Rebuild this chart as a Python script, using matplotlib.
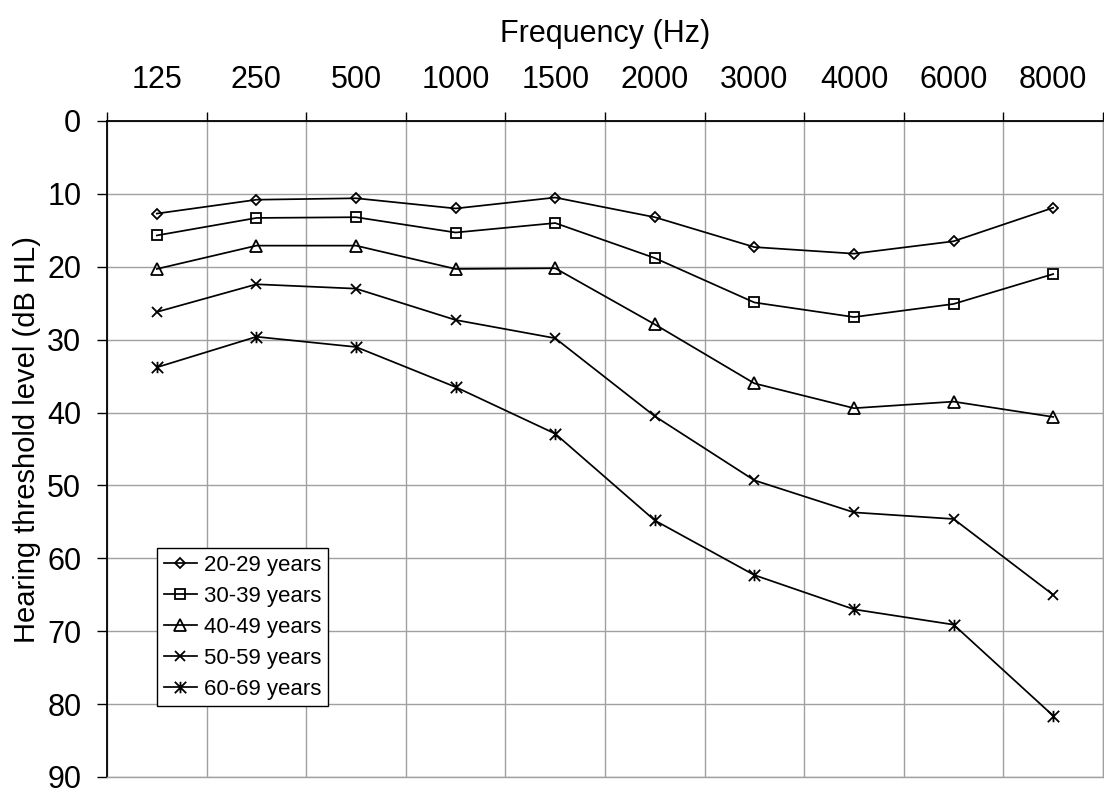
import matplotlib
matplotlib.use("Agg")
import matplotlib.pyplot as plt
from matplotlib.path import Path
import numpy as np

plt.rcParams['font.family'] = ['Liberation Sans', 'DejaVu Sans']

freqs = ['125', '250', '500', '1000', '1500', '2000', '3000', '4000', '6000', '8000']
s20 = [12.7, 10.8, 10.6, 12.0, 10.5, 13.2, 17.3, 18.2, 16.5, 11.9]
s30 = [15.7, 13.3, 13.2, 15.3, 14.0, 18.8, 24.9, 26.9, 25.1, 21.0]
s40 = [20.3, 17.1, 17.1, 20.3, 20.2, 27.9, 36.0, 39.4, 38.5, 40.6]
s50 = [26.2, 22.4, 23.0, 27.3, 29.8, 40.5, 49.3, 53.7, 54.6, 65.0]
s60 = [33.8, 29.6, 31.0, 36.5, 42.9, 54.8, 62.3, 67.0, 69.1, 81.6]
labels = ['20-29 years', '30-39 years', '40-49 years', '50-59 years', '60-69 years']
yticks = [0, 10, 20, 30, 40, 50, 60, 70, 80, 90]

star = Path([(0, -1), (0, 1), (-1, -1), (1, 1), (-1, 1), (1, -1)],
            [Path.MOVETO, Path.LINETO, Path.MOVETO, Path.LINETO, Path.MOVETO, Path.LINETO])

styles = [('D', 5.4), ('s', 7.4), ('^', 8.0), ('x', 7.8), (star, 8.2)]

W, H = 1104, 792
fig = plt.figure(figsize=(W / 100, H / 100), dpi=100)
ax = fig.add_axes([107 / W, 1 - 777 / H, 996 / W, 656 / H])

x = np.arange(len(freqs))
for vals, lab, (m, ms) in zip([s20, s30, s40, s50, s60], labels, styles):
    ax.plot(x, vals, color='black', lw=1.25, marker=m, ms=ms,
            mfc='none', mec='black', mew=1.3, label=lab, zorder=3)

ax.set_xlim(-0.5, len(freqs) - 0.5)
ax.set_ylim(90, 0)

ax.xaxis.tick_top()
ax.set_xticks(x)
ax.set_xticklabels(freqs, fontsize=22)
ax.set_xticks(np.arange(-0.5, len(freqs), 1.0), minor=True)
ax.tick_params(axis='x', which='major', length=0, pad=19)
ax.tick_params(axis='x', which='minor', length=6.5, width=1, color='black', top=True, bottom=False)

ax.set_yticks(yticks)
ax.set_yticklabels([str(v) for v in yticks], fontsize=22)
ax.tick_params(axis='y', which='major', length=7.5, width=1, color='black', pad=11, left=True, right=False)

ax.grid(True, axis='y', which='major', color='#a0a0a0', lw=1.0, zorder=0)
ax.grid(True, axis='x', which='minor', color='#a0a0a0', lw=1.0, zorder=0)
ax.set_axisbelow(True)

for side in ['bottom', 'right']:
    ax.spines[side].set_color('#a0a0a0')
    ax.spines[side].set_linewidth(1.0)
for side in ['top', 'left']:
    ax.spines[side].set_color('black')
    ax.spines[side].set_linewidth(1.3)

ax.set_xlabel('Frequency (Hz)', fontsize=22)
ax.xaxis.set_label_position('top')
ax.xaxis.set_label_coords(0.5, (777 - 42) / 656)
ax.xaxis.label.set_va('baseline')

ax.set_ylabel('Hearing threshold level (dB HL)', fontsize=21)
ax.yaxis.set_label_coords((27 - 107) / 996, 0.515)
ax.yaxis.label.set_va('center')

leg = ax.legend(loc='upper left', bbox_to_anchor=(50 / 996, (777 - 548) / 656),
                fontsize=16, frameon=True, fancybox=False, framealpha=1,
                edgecolor='black', borderpad=0.3, labelspacing=0.45,
                handlelength=1.5, handletextpad=0.3, borderaxespad=0)
leg.get_frame().set_linewidth(1.0)

fig.savefig('out.png', dpi=100)
